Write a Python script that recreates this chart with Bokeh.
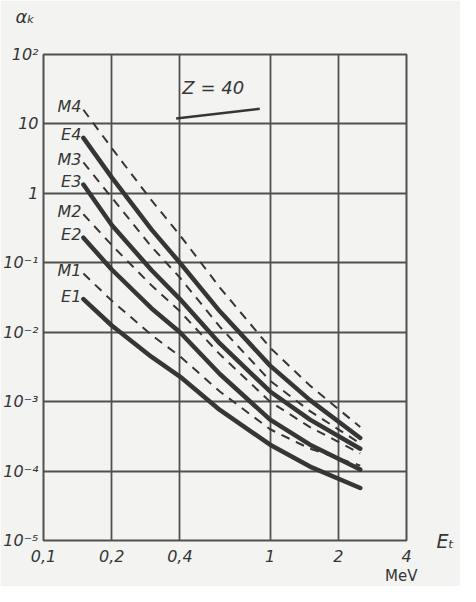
from bokeh.plotting import figure
from bokeh.models import FixedTicker, Label, ColumnDataSource, Title, LogAxis
from bokeh.core.properties import value
from bokeh.embed import file_html
from bokeh.resources import INLINE

# Energies (MeV) at which values were read
energy = [0.15, 0.2, 0.3, 0.4, 0.6, 1.0, 1.5, 2.5]

# alpha_K values (Z = 40)
E1 = [0.030, 0.0125, 4.4e-3, 2.3e-3, 7.6e-4, 2.4e-4, 1.16e-4, 5.7e-5]
E2 = [0.23, 0.080, 0.022, 0.010, 2.5e-3, 5.5e-4, 2.4e-4, 1.05e-4]
E3 = [1.34, 0.35, 0.078, 0.030, 6.9e-3, 1.4e-3, 5.5e-4, 2.1e-4]
E4 = [6.3, 1.7, 0.30, 0.10, 0.020, 3.3e-3, 1.05e-3, 3.0e-4]
M1 = [0.070, 0.0285, 9.1e-3, 4.5e-3, 1.4e-3, 4.0e-4, 2.1e-4, 1.2e-4]
M2 = [0.50, 0.18, 0.047, 0.020, 4.8e-3, 1.0e-3, 4.3e-4, 1.8e-4]
M3 = [2.8, 0.87, 0.17, 0.061, 0.012, 2.0e-3, 7.3e-4, 2.5e-4]
M4 = [16.0, 4.5, 0.79, 0.25, 0.044, 6.0e-3, 1.7e-3, 4.3e-4]

x_ticks = [0.1, 0.2, 0.4, 1, 2, 4]
x_tick_labels = ["0,1", "0,2", "0,4", "1", "2", "4"]
y_ticks = [1e-5, 1e-4, 1e-3, 1e-2, 1e-1, 1, 10, 100]
y_tick_labels = ["10⁻⁵", "10⁻⁴", "10⁻³", "10⁻²", "10⁻¹", "1", "10", "10²"]

INK = "#363636"
GRIDC = "#505050"
BG = "#f3f3f1"
FONT = "DejaVu Sans"

p = figure(width=460, height=586, x_axis_type="log", y_axis_type="log",
           x_range=(0.1, 4), y_range=(1e-5, 1e2),
           output_backend="svg", toolbar_location=None,
           min_border_left=40, min_border_right=54,
           min_border_top=54, min_border_bottom=46)
p.background_fill_color = BG
p.border_fill_color = BG
p.outline_line_color = GRIDC
p.outline_line_width = 2

p.xaxis.ticker = FixedTicker(ticks=x_ticks)
p.yaxis.ticker = FixedTicker(ticks=y_ticks)
p.xaxis.major_label_overrides = {t: l for t, l in zip(x_ticks, x_tick_labels)}
p.yaxis.major_label_overrides = {t: l for t, l in zip(y_ticks, y_tick_labels)}


def plain_axis(ax, size="16px"):
    ax.axis_line_color = None
    ax.major_tick_line_color = None
    ax.minor_tick_line_color = None
    ax.major_tick_out = 0
    ax.major_tick_in = 0
    ax.major_label_text_font = FONT
    ax.major_label_text_font_style = "italic"
    ax.major_label_text_font_size = size
    ax.major_label_text_color = INK


for ax in (p.xaxis[0], p.yaxis[0]):
    plain_axis(ax)
p.xaxis.major_label_standoff = 9
p.yaxis.major_label_standoff = 5

p.xgrid.ticker = FixedTicker(ticks=x_ticks)
p.ygrid.ticker = FixedTicker(ticks=y_ticks)
for g in (p.xgrid, p.ygrid):
    g.grid_line_color = GRIDC
    g.grid_line_width = 1.8
    g.grid_line_alpha = 1.0

curves = [("M4", M4, True), ("E4", E4, False), ("M3", M3, True), ("E3", E3, False),
          ("M2", M2, True), ("E2", E2, False), ("M1", M1, True), ("E1", E1, False)]

lab_x, lab_y, lab_t = [], [], []
for name, vals, dashed in curves:
    if dashed:
        p.line(energy, vals, line_color=INK, line_width=2, line_dash="9 7")
    else:
        p.line(energy, vals, line_color=INK, line_width=4.5, line_cap="round",
               line_join="round")
    lab_x.append(energy[0])
    lab_y.append(vals[0])
    lab_t.append(name)

src = ColumnDataSource(dict(x=lab_x, y=lab_y, t=lab_t))
p.text(x="x", y="y", text="t", source=src, text_font=value(FONT),
       text_font_style="italic", text_font_size="16px", text_color=INK,
       text_align="right", text_baseline="middle", x_offset=-2, y_offset=-3)

# Z = 40 annotation
p.add_layout(Label(x=0.41, y=24, text="Z = 40", text_font=FONT,
                   text_font_style="italic", text_font_size="18px",
                   text_color=INK, text_baseline="bottom"))
p.line([0.385, 0.9], [12, 16.5], line_color=INK, line_width=2.5)

# invisible spacer axis above the frame (one hidden tick) to lift the title
spacer = LogAxis(ticker=FixedTicker(ticks=[1]), major_label_overrides={1: ""})
spacer.axis_line_color = None
spacer.major_tick_line_color = None
spacer.minor_tick_line_color = None
spacer.major_tick_in = 0
spacer.major_tick_out = 28
spacer.major_label_standoff = 0
spacer.major_label_text_font_size = "0px"
p.add_layout(spacer, "above")

# y-axis title: alpha_K, top-left
p.title.text = "αₖ"
p.title.align = "left"
p.title.offset = -28
p.title.standoff = 0
p.title.text_font = FONT
p.title.text_font_style = "italic"
p.title.text_font_size = "18px"
p.title.text_color = INK

# x-axis title: E_T at the right end of the axis
ax_e = LogAxis(ticker=FixedTicker(ticks=[1e-5]), major_label_overrides={1e-5: "Eₜ"})
plain_axis(ax_e, "19px")
ax_e.major_label_standoff = 30
p.add_layout(ax_e, "right")

# MeV below the axis, at the right
p.add_layout(Title(text="MeV", align="right", offset=-11, standoff=0,
                   text_font=FONT, text_font_style="normal", text_font_size="15px",
                   text_color=INK), "below")

open("out.html", "w").write(file_html(p, INLINE))
